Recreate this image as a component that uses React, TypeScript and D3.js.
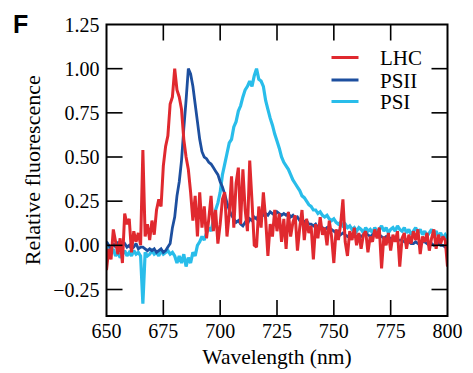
import React from "react";
import * as d3 from "d3";

// Emission spectra, sampled every 1 nm from 650 to 800 nm
const wavelengths: number[] = d3.range(650, 801, 1);

const lhc: number[] = [
  -0.14, -0.02, -0.08, 0.09, 0.02, -0.05, 0.04, -0.1, 0.18, 0.12,
  0.15, -0.04, 0.08, 0.02, 0.07, 0.0, 0.54, 0.05, 0.12, 0.03,
  0.14, 0.06, 0.2, 0.26, 0.22, 0.45, 0.56, 0.62, 0.8, 0.84,
  1.0, 0.88, 0.84, 0.77, 0.6, 0.5, 0.43, 0.3, 0.14, 0.28,
  0.05, 0.3, 0.1, 0.22, 0.04, 0.15, 0.28, 0.08, 0.2, 0.01,
  0.12, 0.26, 0.3, 0.05, 0.18, 0.39, 0.1, 0.35, 0.44, 0.12,
  0.43, 0.2, 0.08, 0.48, 0.25, 0.0, -0.01, 0.22, 0.1, 0.3,
  0.15, -0.06, 0.12, 0.05, 0.2, 0.08, 0.18, 0.02, 0.15, -0.02,
  0.19, 0.05, 0.13, 0.17, -0.03, 0.1, 0.2, 0.03, 0.15, 0.07,
  0.11, -0.08, 0.12, 0.04, 0.16, 0.06, 0.1, 0.0, 0.14, 0.05,
  -0.1, 0.09, 0.03, 0.12, 0.26, 0.02, -0.06, 0.08, 0.03, 0.1,
  0.0, 0.07, -0.02, 0.06, 0.08, -0.04, 0.05, 0.02, 0.09, 0.04,
  0.1, -0.13, 0.05, 0.0, 0.07, -0.03, 0.06, 0.02, 0.08, -0.12,
  0.04, 0.07, -0.02, 0.06, 0.01, 0.08, 0.03, 0.09, -0.05, 0.05,
  0.02, 0.07, -0.03, 0.04, 0.09, -0.02, 0.06, 0.01, 0.05, 0.03,
  -0.12,
];

const psii: number[] = [
  0.02, 0.0, -0.02, 0.01, -0.01, 0.02, -0.02, 0.0, 0.01, -0.01,
  0.0, -0.02, -0.01, 0.01, -0.02, -0.01, -0.01, -0.02, -0.03, -0.02,
  -0.03, -0.02, -0.04, -0.03, -0.02, -0.04, -0.03, -0.01, 0.01, 0.1,
  0.16, 0.28, 0.36, 0.48, 0.66, 0.82, 1.0, 0.97, 0.9, 0.8,
  0.7, 0.6, 0.53, 0.5, 0.49, 0.47, 0.46, 0.44, 0.42, 0.4,
  0.36, 0.33, 0.29, 0.24, 0.2, 0.17, 0.15, 0.13, 0.14, 0.12,
  0.11, 0.13, 0.12, 0.15, 0.14, 0.16, 0.15, 0.17, 0.18, 0.17,
  0.18, 0.17, 0.19, 0.18, 0.17, 0.19, 0.18, 0.17, 0.18, 0.17,
  0.18, 0.16, 0.17, 0.15, 0.16, 0.14, 0.15, 0.13, 0.14, 0.12,
  0.12, 0.11, 0.12, 0.1, 0.11, 0.1, 0.09, 0.1, 0.08, 0.09,
  0.08, 0.07, 0.08, 0.06, 0.07, 0.06, 0.05, 0.06, 0.05, 0.05,
  0.05, 0.06, 0.05, 0.06, 0.07, 0.06, 0.05, 0.06, 0.07, 0.06,
  0.06, 0.05, 0.04, 0.05, 0.04, 0.04, 0.03, 0.04, 0.03, 0.03,
  0.03, 0.02, 0.03, 0.02, 0.01, 0.01, 0.02, 0.01, 0.02, 0.02,
  0.02, 0.01, 0.0, 0.01, 0.0, 0.0, 0.01, 0.0, 0.0, -0.01,
  0.0,
];

const psi: number[] = [
  0.02, -0.03, -0.05, -0.02, -0.06, -0.04, -0.07, -0.05, -0.03, -0.06,
  -0.04, -0.06, -0.03, -0.05, -0.04, -0.06, -0.33, -0.04, -0.06, -0.05,
  -0.03, -0.05, -0.04, -0.06, -0.03, -0.05, -0.04, -0.03, -0.05, -0.04,
  -0.06, -0.1, -0.06, -0.1, -0.05, -0.12, -0.07, -0.1, -0.04, -0.06,
  0.0, 0.02, 0.05, 0.03, 0.07, 0.1, 0.08, 0.14, 0.2, 0.24,
  0.3, 0.4, 0.46, 0.52, 0.58, 0.6, 0.67, 0.7, 0.76, 0.79,
  0.84, 0.88, 0.9, 0.93, 0.9, 0.96, 1.0, 0.94, 0.93, 0.9,
  0.82, 0.77, 0.72, 0.68, 0.63, 0.59, 0.55, 0.5, 0.47, 0.45,
  0.43, 0.4, 0.37, 0.35, 0.33, 0.31, 0.28, 0.27, 0.25, 0.23,
  0.22, 0.2, 0.2, 0.18, 0.19, 0.17, 0.16, 0.17, 0.15, 0.14,
  0.15, 0.13, 0.12, 0.13, 0.11, 0.12, 0.1, 0.11, 0.09, 0.1,
  0.08, 0.1, 0.09, 0.07, 0.1, 0.08, 0.09, 0.07, 0.1, 0.08,
  0.09, 0.11, 0.08, 0.1, 0.07, 0.09, 0.1, 0.08, 0.11, 0.09,
  0.08, 0.1, 0.07, 0.09, 0.06, 0.08, 0.1, 0.07, 0.09, 0.06,
  0.08, 0.05, 0.07, 0.09, 0.06, 0.08, 0.05, 0.07, 0.04, 0.06,
  0.04,
];

const seriesNames: string[] = ["LHC", "PSII", "PSI"];
const seriesColors: string[] = ["#e0292f", "#1d4f9f", "#29bdea"];
const seriesWidths: number[] = [3, 2.8, 3.2];

const xTicks: number[] = [650, 675, 700, 725, 750, 775, 800];
const yTicks: number[] = [-0.25, 0, 0.25, 0.5, 0.75, 1.0, 1.25];

const W = 473;
const H = 373;
const M = { left: 106.5, right: 447.5, top: 24.5, bottom: 316 };
const TICK = 16;
const SERIF = "'Liberation Serif', 'Times New Roman', serif";

export default function App() {
  const x = d3.scaleLinear().domain([650, 800]).range([M.left, M.right]);
  const y = d3.scaleLinear().domain([-0.4, 1.25]).range([M.bottom, M.top]);

  const line = (vals: number[]) =>
    d3
      .line<number>()
      .x((_, i) => x(wavelengths[i]))
      .y((v) => y(v))(vals) || "";

  const series = [lhc, psii, psi];
  // draw order: PSI underneath, then PSII, LHC on top
  const order = [2, 1, 0];

  return (
    <svg
      width={W}
      height={H}
      style={{ position: "absolute", left: 0, top: 0, background: "#fff" }}
    >
      <defs>
        <clipPath id="plot">
          <rect x={M.left} y={M.top} width={M.right - M.left} height={M.bottom - M.top} />
        </clipPath>
      </defs>

      <text
        x={13}
        y={32.5}
        fontFamily="'Liberation Sans', Arial, sans-serif"
        fontWeight="bold"
        fontSize={25}
      >
        F
      </text>

      <g clipPath="url(#plot)">
        {order.map((k) => (
          <path
            key={seriesNames[k]}
            d={line(series[k])}
            fill="none"
            stroke={seriesColors[k]}
            strokeWidth={seriesWidths[k]}
            strokeLinejoin="miter"
            strokeMiterlimit={2}
          />
        ))}
      </g>

      {/* frame and mirrored inward ticks */}
      <g stroke="#000" strokeWidth={1.6} fill="none">
        <rect x={M.left} y={M.top} width={M.right - M.left} height={M.bottom - M.top} strokeWidth={2} />
        {xTicks.slice(1, -1).map((t) => (
          <g key={"xt" + t}>
            <line x1={x(t)} x2={x(t)} y1={M.bottom} y2={M.bottom - TICK} />
            <line x1={x(t)} x2={x(t)} y1={M.top} y2={M.top + TICK} />
          </g>
        ))}
        {yTicks.slice(0, -1).map((t) => (
          <g key={"yt" + t}>
            <line x1={M.left} x2={M.left + TICK} y1={y(t)} y2={y(t)} />
            <line x1={M.right} x2={M.right - TICK} y1={y(t)} y2={y(t)} />
          </g>
        ))}
      </g>

      <g fontFamily={SERIF} fontSize={20} fill="#000">
        {xTicks.map((t) => (
          <text key={"xl" + t} x={x(t)} y={337.5} textAnchor="middle">
            {t}
          </text>
        ))}
        {yTicks.map((t) => (
          <text key={"yl" + t} x={99.5} y={y(t) + 7} textAnchor="end">
            {d3.format(".2f")(t)}
          </text>
        ))}
      </g>

      <text
        x={(M.left + M.right) / 2}
        y={363.5}
        textAnchor="middle"
        fontFamily={SERIF}
        fontSize={21.5}
      >
        Wavelength (nm)
      </text>
      <text
        transform={`translate(39.5, ${(M.top + M.bottom) / 2}) rotate(-90)`}
        textAnchor="middle"
        fontFamily={SERIF}
        fontSize={22}
      >
        Relative fluorescence
      </text>

      <g fontFamily={SERIF} fontSize={21}>
        {seriesNames.map((name, i) => {
          const ly = [57.5, 80, 101.5][i];
          return (
            <g key={name}>
              <line x1={331.5} x2={358.5} y1={ly} y2={ly} stroke={seriesColors[i]} strokeWidth={3} />
              <text x={380} y={ly + 7.5}>
                {name}
              </text>
            </g>
          );
        })}
      </g>
    </svg>
  );
}
